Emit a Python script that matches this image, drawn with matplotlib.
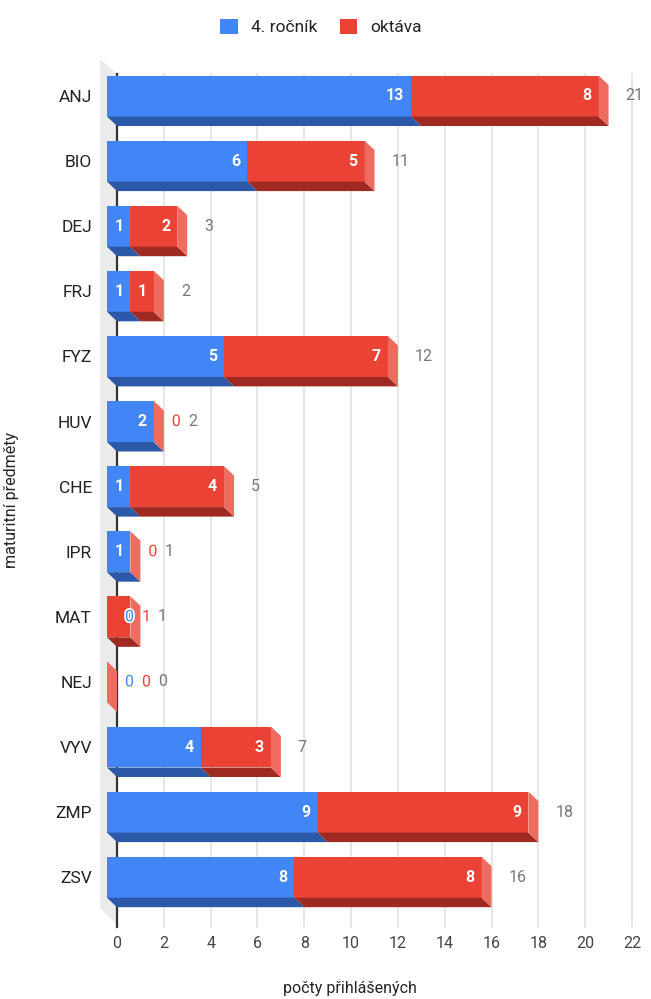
import matplotlib
matplotlib.use("Agg")
import matplotlib.pyplot as plt
from matplotlib.patches import Polygon, Patch
import matplotlib.patheffects as pe
import numpy as np

plt.rcParams['font.family'] = ['Roboto', 'DejaVu Sans']

categories = ["ANJ", "BIO", "DEJ", "FRJ", "FYZ", "HUV", "CHE", "IPR", "MAT", "NEJ", "VYV", "ZMP", "ZSV"]
rocnik4 = [13, 6, 1, 1, 5, 2, 1, 1, 0, 0, 4, 9, 8]
oktava = [8, 5, 2, 1, 7, 0, 4, 0, 1, 0, 3, 9, 8]
series_names = ["4. ročník", "oktáva"]
x_ticks = list(range(0, 23, 2))

BLUE = "#4285F4"
RED = "#EA4335"
BLUE_DARK = "#2C58A8"
RED_DARK = "#9E2A22"
RED_SIDE = "#EE6B60"
front_colors = [BLUE, RED]
bottom_colors = [BLUE_DARK, RED_DARK]

W, H = 651, 999
fig = plt.figure(figsize=(W / 100, H / 100), dpi=100)

# axes placement in pixels
ax_l, ax_r, ax_t, ax_b = 100, 645, 55, 930
ax = fig.add_axes([ax_l / W, 1 - ax_b / H, (ax_r - ax_l) / W, (ax_b - ax_t) / H])

x0_px, x22_px = 117, 632
sx = (x22_px - x0_px) / 22.0           # px per unit
row0_px, row_step = 96, 65.1          # px
ax.set_xlim((ax_l - x0_px) / sx, (ax_r - x0_px) / sx)
ax.set_ylim((ax_b - row0_px) / row_step, (ax_t - row0_px) / row_step)

def py(p):
    return (p - row0_px) / row_step

dxu = 10 / sx
dyu = 9.5 / row_step
hh = 20.5 / row_step

# wall
wall = Polygon([(-17 / sx, py(59)), (0, py(74)), (0, py(924)), (-17 / sx, py(908))],
               closed=True, facecolor="#EBEBEB", edgecolor="none", zorder=0)
ax.add_patch(wall)

# gridlines
for t in x_ticks:
    if t == 0:
        ax.plot([0, 0], [py(74), py(927)], color="#333333", lw=1.6, zorder=1)
    else:
        ax.plot([t, t], [py(74), py(927)], color="#E3E3E3", lw=1.2, zorder=1)

renderer = fig.canvas.get_renderer()
fs_num = 11.5
halo = [pe.withStroke(linewidth=2.5, foreground="white")]

for i, cat in enumerate(categories):
    vals = [rocnik4[i], oktava[i]]
    starts = [0, vals[0]]
    ends = [vals[0], vals[0] + vals[1]]
    total = ends[1]
    ytop, ybot = i - hh, i + hh
    for k in range(2):
        a, b = starts[k], ends[k]
        if b > a:
            ax.add_patch(Polygon([(a - dxu, ytop), (b - dxu, ytop), (b - dxu, ybot), (a - dxu, ybot)],
                                 closed=True, facecolor=front_colors[k], edgecolor="none", zorder=3))
            ax.add_patch(Polygon([(a - dxu, ybot), (b - dxu, ybot), (b, ybot + dyu), (a, ybot + dyu)],
                                 closed=True, facecolor=bottom_colors[k], edgecolor="none", zorder=3))
    # side face
    ax.add_patch(Polygon([(total - dxu, ytop), (total, ytop + dyu), (total, ybot + dyu), (total - dxu, ybot)],
                         closed=True, facecolor=RED_SIDE, edgecolor="none", zorder=3))

    # labels
    last_right = None
    for k in range(2):
        v = vals[k]
        b = ends[k]
        lab = str(v)
        if v * sx >= 20 and last_right is None:
            ax.annotate(lab, xy=(b - dxu, i), xytext=(-7, 0), textcoords="offset pixels",
                        ha="right", va="center", color="white", fontsize=fs_num,
                        fontweight="bold", zorder=5)
        else:
            bx_px = x0_px + b * sx
            if last_right is None:
                x_px = bx_px + 8
            else:
                x_px = last_right + 8
            t = ax.annotate(lab, xy=(0, i), xytext=(x_px - x0_px, 0), textcoords="offset pixels",
                            ha="left", va="center", color=front_colors[k], fontsize=fs_num,
                            zorder=5, path_effects=halo)
            bb = t.get_window_extent(renderer)
            last_right = bb.x1
    if last_right is None:
        x_px = x0_px + total * sx + 17
    else:
        x_px = last_right + 7
    ax.annotate(str(total), xy=(0, i), xytext=(x_px - x0_px, 0), textcoords="offset pixels",
                ha="left", va="center", color="#777777", fontsize=fs_num, zorder=5)

ax.set_yticks(range(len(categories)))
ax.set_yticklabels(categories, fontsize=12.5, color="#222222")
ax.set_xticks(x_ticks)
ax.set_xticklabels([str(t) for t in x_ticks], fontsize=11.5, color="#444444")
ax.tick_params(axis="y", length=0, pad=5.8)
ax.tick_params(axis="x", length=0, pad=4)
for s in ax.spines.values():
    s.set_visible(False)
ax.set_facecolor("none")

fig.text(12 / W, 1 - 500 / H, "maturitní předměty", rotation=90, ha="center", va="center",
         fontsize=11.5, color="#222222")
fig.text(350 / W, 1 - 988 / H, "počty přihlášených", ha="center", va="center",
         fontsize=11.5, color="#222222")

handles = [Patch(facecolor=BLUE, edgecolor="none"), Patch(facecolor=RED, edgecolor="none")]
fig.legend(handles, series_names, loc="center", bbox_to_anchor=(321 / W, 1 - 27 / H), ncol=2,
           frameon=False, fontsize=12.5, handlelength=1.0, handleheight=1.0,
           handletextpad=0.75, columnspacing=1.3, labelcolor="#222222")

fig.savefig("out.png", dpi=100)
